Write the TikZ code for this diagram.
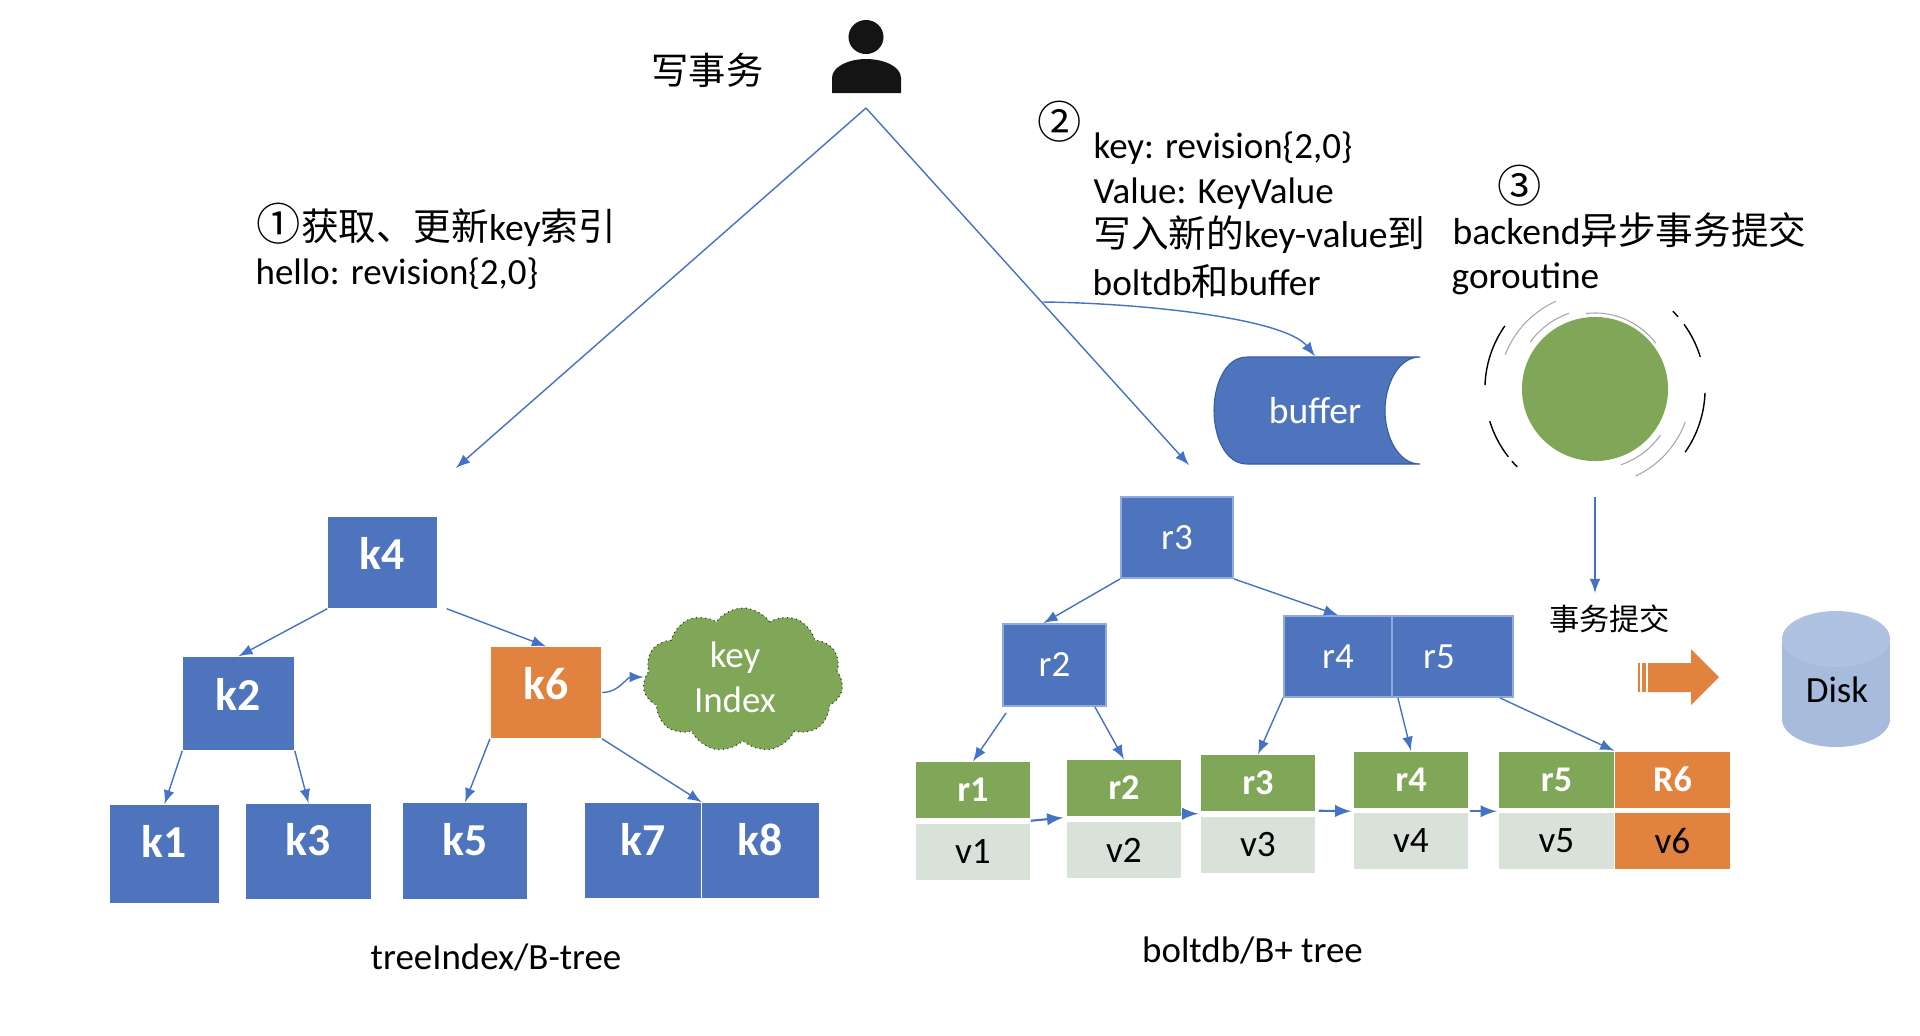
\documentclass[tikz,border=0pt]{standalone}
\usepackage{fontspec}
\setmainfont{Carlito}
\newfontfamily\cjk{Noto Sans CJK SC}
\usepackage{xcolor}
\usepackage{tikz}
\usetikzlibrary{arrows}
\usetikzlibrary{shapes.geometric,shapes.symbols}

\definecolor{boxblue}{HTML}{4E74BE}
\definecolor{boxedge}{HTML}{8FAADC}
\definecolor{boxgreen}{HTML}{7FA757}
\definecolor{boxorange}{HTML}{E1823F}
\definecolor{boxpale}{HTML}{D9E2D8}
\definecolor{diskblue}{HTML}{A7BBDD}
\definecolor{disktop}{HTML}{B0C2E1}
\definecolor{linkblue}{HTML}{4472C4}

\tikzset{
  link/.style={draw=linkblue, line width=0.4pt, ->, >=latex},
  kbox/.style={fill=boxblue, text=white, inner sep=0pt, font=\fontsize{13}{15}\selectfont\bfseries, text height=9.5pt, text depth=5.5pt},
  rbox/.style={fill=boxblue, draw=boxedge, line width=0.5pt, text=white, inner sep=0pt, font=\fontsize{10.5}{12}\selectfont},
  leaf/.style={fill=boxgreen, text=white, inner sep=0pt, minimum width=1.14cm, minimum height=.56cm, font=\fontsize{10.3}{12}\selectfont\bfseries},
  val/.style={fill=boxpale, text=black, inner sep=0pt, minimum width=1.14cm, minimum height=.56cm, font=\fontsize{10.6}{12}\selectfont},
  note/.style={anchor=west, inner sep=0pt, font=\fontsize{10.5}{12}\selectfont},
  ring/.style={line width=0.4pt, draw=black},
  ringgrey/.style={line width=0.3pt, draw=gray!70}
}

\begin{document}
\begin{tikzpicture}[x=0.01cm, y=-0.01cm]
        \useasboundingbox (0,0) rectangle (1920,1035);

        % writer
        \fill[black!92] (866,37) ellipse (.175cm and .17cm);
        \fill[black!92] (832,93) -- (832,78) .. controls (832,66) and (850,59) .. (866,59)
              .. controls (883,59) and (901,66) .. (901,78) -- (901,93) -- cycle;
        \node[note, font=\fontsize{10.6}{12}\selectfont\cjk] (Title) at (651,70) {写事务};
        \coordinate (Apex) at (866,108);
        \coordinate (TreeEnd) at (456,468);
        \coordinate (BoltEnd) at (1189,465);
        \coordinate (Branch) at (1043,302);
        \draw[link] (Apex) -- (TreeEnd);
        \draw[link] (Apex) -- (BoltEnd);

        % step notes
        \node[note, font=\fontsize{10.7}{12}\selectfont] (StepOne) at (256,224.5)
              {\cjk{\fontsize{12.6}{12}\selectfont ①}获取、更新\normalfont key\cjk 索引};
        \node[note] (HelloRev) at (255,274) {hello: revision\{2,0\}};
        \node[note, font=\fontsize{12.6}{12}\selectfont\cjk] (StepTwo) at (1037,122) {②};
        \node[note] (KeyRev) at (1093,148) {key: revision\{2,0\}};
        \node[note] (ValueLine) at (1093,194) {Value: KeyValue};
        \node[note, font=\fontsize{10.7}{12}\selectfont] (WriteLine) at (1093,235) {\cjk 写入新的\normalfont key-value\cjk 到};
        \node[note, font=\fontsize{10.6}{12}\selectfont] (BoltLine) at (1092,281) {boltdb{\cjk 和}buffer};
        \node[note, font=\fontsize{12.6}{12}\selectfont\cjk] (StepThree) at (1497,186) {③};
        \node[note, font=\fontsize{10.7}{12}\selectfont] (BackLine) at (1452,230) {backend\cjk 异步事务提交};
        \node[note, font=\fontsize{10.6}{12}\selectfont] (GoLine) at (1451,279) {goroutine};

        % treeIndex
        \node[kbox, minimum width=1.09cm, minimum height=.91cm] (K4) at (382.5,562.5) {k4};
        \node[kbox, minimum width=1.11cm, minimum height=.93cm] (K2) at (238.5,703.5) {k2};
        \node[kbox, fill=boxorange, minimum width=1.105cm, minimum height=.91cm] (K6) at (546,692.5) {k6};
        \node[kbox, text depth=7.5pt, minimum width=1.09cm, minimum height=.98cm] (K1) at (164.5,854) {k1};
        \node[kbox, text depth=7pt, minimum width=1.25cm, minimum height=.95cm] (K3) at (308.5,851.5) {k3};
        \node[kbox, text depth=7pt, minimum width=1.24cm, minimum height=.96cm] (K5) at (465,851) {k5};
        \node[kbox, text depth=6.5pt, minimum width=1.16cm, minimum height=.95cm] (K7) at (643,850.5) {k7};
        \node[kbox, text depth=6.5pt, minimum width=1.17cm, minimum height=.95cm] (K8) at (760.5,850.5) {k8};
        \node[cloud, cloud puffs=11, cloud puff arc=110, aspect=1.3, fill=boxgreen, draw=black!70!boxgreen, densely dotted, line width=0.3pt,
              minimum width=2cm, minimum height=1.44cm, inner sep=0pt] (Cloud) at (743,680) {};
        \node[inner sep=0pt, text=white, align=center, font=\fontsize{10.5}{12.8}\selectfont] (CloudName) at (735,677) {key\\Index};

        \draw[link] (K4.south west) -- (K2.north);
        \draw[link] ([xshift=.09cm]K4.south east) -- (K6.north);
        \draw[link] (K2.south west) -- (K1.north);
        \draw[link] (K2.south east) -- (K3.north);
        \draw[link] (K6.south west) -- (K5.north);
        \draw[link] (K6.south east) -- (K7.north east);
        \draw[link] (K6.east) to[out=0, in=180] ([yshift=.03cm]Cloud.west);

        \node[inner sep=0pt, font=\fontsize{10.5}{12}\selectfont] (TreeName) at (496,957) {treeIndex/B-tree};

        % boltdb
        \node[rbox, minimum width=1.12cm, minimum height=.81cm] (R3) at (1177,537.5) {r3};
        \node[rbox, minimum width=1.03cm, minimum height=.82cm] (R2) at (1054.5,665) {r2};
        \node[rbox, minimum width=1.08cm, minimum height=.81cm] (R4) at (1338,656.5) {r4};
        \node[rbox, minimum width=1.21cm, minimum height=.81cm] (R5) at (1452.5,656.5) {r5\hspace*{.27cm}};

        \node[leaf] (L1) at (973,790) {r1};
        \node[val]  (V1) at (973,851.5) {v1};
        \node[leaf] (L2) at (1124,788) {r2};
        \node[val]  (V2) at (1124,850) {v2};
        \node[leaf] (L3) at (1258,783) {r3};
        \node[val]  (V3) at (1258,845) {v3};
        \node[leaf] (L4) at (1411,779.5) {r4};
        \node[val]  (V4) at (1411,841) {v4};
        \node[leaf] (L5) at (1556.5,779.5) {r5};
        \node[val]  (V5) at (1556.5,841) {v5};
        \node[leaf, fill=boxorange] (L6) at (1672.5,779.5) {R6};
        \node[val, fill=boxorange]  (V6) at (1672.5,841) {v6};

        \draw[link] (R3.south west) -- ([xshift=-.11cm]R2.north);
        \draw[link] (R3.south east) -- (R4.north);
        \draw[link] ([yshift=-.06cm,xshift=.04cm]R2.south west) -- (L1.north);
        \draw[link] ([xshift=-.12cm]R2.south east) -- (L2.north);
        \draw[link] (R4.south west) -- (L3.north);
        \draw[link] ([xshift=.05cm]R4.south east) -- (L4.north);
        \draw[link] ([xshift=-.14cm]R5.south east) -- (L5.north east);

        \draw[link, line width=0.6pt] ([yshift=-.02cm]L1.south east) -- ([xshift=-.03cm,yshift=-.01cm]L2.south west);
        \draw[link, line width=0.6pt] ([yshift=.03cm]L2.south east) -- ([yshift=-.02cm,xshift=-.02cm]L3.south west);
        \draw[link, line width=0.6pt] ([yshift=.01cm,xshift=.03cm]L3.south east) -- ([yshift=-.03cm,xshift=-.02cm]L4.south west);
        \draw[link, line width=0.6pt] ([yshift=-.03cm,xshift=.01cm]L4.south east) -- ([yshift=-.03cm,xshift=-.02cm]L5.south west);

        \node[inner sep=0pt, font=\fontsize{10.5}{12}\selectfont] (BoltName) at (1252.5,950) {boltdb/B+ tree};

        % buffer
        \filldraw[fill=boxblue, draw=linkblue!80!black, line width=0.3pt] (1420,357) -- (1247,357)
              .. controls (1225,357) and (1214,385) .. (1214,410.5)
              .. controls (1214,436) and (1225,464) .. (1247,464) -- (1420,464)
              .. controls (1398,464) and (1385,436) .. (1385,410.5)
              .. controls (1385,385) and (1398,357) .. (1420,357) -- cycle;
        \node[inner sep=0pt, minimum width=2.06cm, minimum height=1.07cm, text=white,
              font=\fontsize{10.7}{12}\selectfont] (Buffer) at (1315,410.5) {buffer};
        \draw[link] (Branch) .. controls (1140,303) and (1285,318) .. (Buffer.north);

        % goroutine
        \node[ellipse, fill=boxgreen, inner sep=0pt, minimum width=1.46cm, minimum height=1.44cm] (Go) at (1595,389) {};
        \draw[ring] ([shift={(178:1.1cm)}]Go.center) arc (178:145:1.1cm);
        \draw[ring] ([shift={(45:1.1cm)}]Go.center) arc (45:41:1.1cm);
        \draw[ring] ([shift={(36:1.1cm)}]Go.center) arc (36:17:1.1cm);
        \draw[ring] ([shift={(-2:1.1cm)}]Go.center) arc (-2:-35:1.1cm);
        \draw[ring] ([shift={(197:1.1cm)}]Go.center) arc (197:218:1.1cm);
        \draw[ring] ([shift={(221:1.1cm)}]Go.center) arc (221:225:1.1cm);
        \draw[ringgrey] ([shift={(159:.96cm)}]Go.center) arc (159:114:.96cm);
        \draw[ringgrey] ([shift={(-20:.96cm)}]Go.center) arc (-20:-65:.96cm);
        \draw[ringgrey] ([shift={(144:.8cm)}]Go.center) arc (144:109:.8cm);
        \draw[ringgrey] ([shift={(-35:.8cm)}]Go.center) arc (-35:-71:.8cm);
        \draw[ringgrey] ([shift={(97:.76cm)}]Go.center) arc (97:37:.76cm);

        % commit
        \coordinate (CommitTop) at (1595,497);
        \coordinate (CommitEnd) at (1595,593);
        \draw[link] (CommitTop) -- (CommitEnd);
        \node[inner sep=0pt, font=\fontsize{8.6}{12}\selectfont\cjk] (CommitName) at (1609.5,619) {事务提交};

        \fill[boxorange] (1648,663) -- (1691,663) -- (1691,649) -- (1719,677) -- (1691,705) -- (1691,692) -- (1648,692) -- cycle;
        \fill[boxorange] (1638,663) rectangle (1640,692);
        \fill[boxorange] (1642,663) rectangle (1646,692);

        % disk
        \fill[diskblue] (1836,719) ellipse (.54cm and .28cm);
        \fill[diskblue] (1782,639) rectangle (1890,719);
        \fill[disktop] (1836,639) ellipse (.54cm and .28cm);
        \node[inner sep=0pt, font=\fontsize{10.5}{12}\selectfont] (Disk) at (1837,690) {Disk};
      \end{tikzpicture}
\end{document}
